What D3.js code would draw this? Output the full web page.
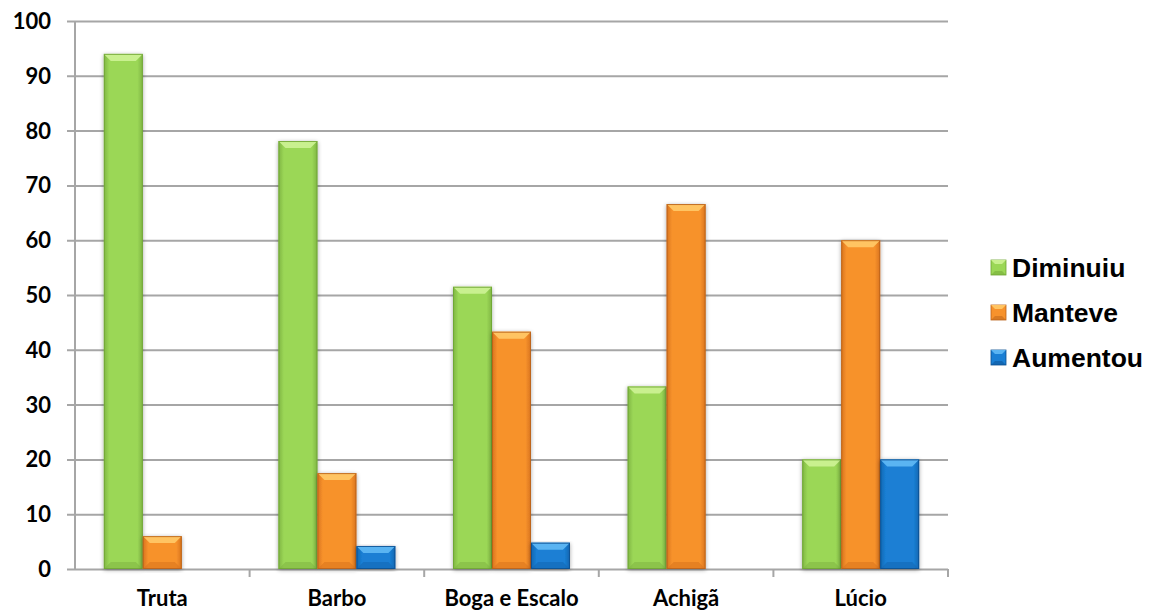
<!DOCTYPE html>
<html>
<head>
<meta charset="utf-8">
<script src="https://cdn.jsdelivr.net/npm/d3@7"></script>
<style>
  html, body { margin: 0; padding: 0; background: #fff; }
  svg { display: block; }
</style>
</head>
<body>
<svg id="chart" width="1153" height="613"></svg>
<script>
// Percentage of answers per species
const categories = ["Truta", "Barbo", "Boga e Escalo", "Achigã", "Lúcio"];
const seriesNames = ["Diminuiu", "Manteve", "Aumentou"];
const diminuiu = [94, 78.1, 51.5, 33.3, 20];
const manteve = [6, 17.5, 43.3, 66.6, 60];
const aumentou = [0, 4.2, 4.8, 0, 20];
const yTicks = [0, 10, 20, 30, 40, 50, 60, 70, 80, 90, 100];

const seriesValues = [diminuiu, manteve, aumentou];
const palette = {
  Diminuiu: { base: "#9bd756", light: "#c9f08f", dark: "#6fa534", edge: "#7fb544" },
  Manteve:  { base: "#f7922c", light: "#ffc462", dark: "#b9611a", edge: "#d8731e" },
  Aumentou: { base: "#1a7fd4", light: "#5ab4f2", dark: "#0c4f8f", edge: "#1166b0" }
};

const svg = d3.select("#chart");
const plotLeft = 75, plotRight = 948, plotTop = 21, plotBottom = 569;

const x0 = d3.scaleBand().domain(categories).range([plotLeft, plotRight]).paddingInner(0).paddingOuter(0);
const x1 = d3.scaleBand().domain(seriesNames).range([0, x0.bandwidth()]).paddingInner(0).paddingOuter(0.74);
const y = d3.scaleLinear().domain([0, 100]).range([plotBottom, plotTop]);

const defs = svg.append("defs");
// horizontal shading for the bar body
seriesNames.forEach((s, i) => {
  const c = palette[s];
  const g = defs.append("linearGradient").attr("id", "body" + i)
    .attr("x1", "0").attr("x2", "1").attr("y1", "0").attr("y2", "0");
  g.append("stop").attr("offset", "0").attr("stop-color", c.edge);
  g.append("stop").attr("offset", "0.14").attr("stop-color", c.base);
  g.append("stop").attr("offset", "0.86").attr("stop-color", c.base);
  g.append("stop").attr("offset", "1").attr("stop-color", c.edge);
});
const shadow = defs.append("filter").attr("id", "shadow")
  .attr("x", "-20%").attr("y", "-10%").attr("width", "140%").attr("height", "120%");
shadow.append("feGaussianBlur").attr("in", "SourceAlpha").attr("stdDeviation", 2);
shadow.append("feOffset").attr("dx", 0).attr("dy", 1).attr("result", "b");
shadow.append("feComponentTransfer").append("feFuncA").attr("type", "linear").attr("slope", 0.35);
const merge = shadow.append("feMerge");
merge.append("feMergeNode");
merge.append("feMergeNode").attr("in", "SourceGraphic");

// gridlines with tick stubs
const yAxis = d3.axisLeft(y).tickValues(yTicks).tickSize(0).tickFormat("");
svg.append("g").attr("transform", `translate(${plotLeft - 8},0)`)
  .call(yAxis)
  .call(g => g.select(".domain").remove())
  .call(g => g.selectAll(".tick line")
    .attr("x1", 0).attr("x2", plotRight - plotLeft + 8)
    .attr("stroke", "#a6a6a6").attr("stroke-width", 2));

// tick labels
svg.append("g").selectAll("text").data(yTicks).join("text")
  .attr("x", 51).attr("y", d => y(d)).attr("dy", "0.36em")
  .attr("text-anchor", "end")
  .attr("font-family", "Lato, 'Open Sans', sans-serif").attr("font-weight", 700)
  .attr("font-size", 22).attr("fill", "#000")
  .text(d => d);

// y axis line
svg.append("line").attr("x1", plotLeft).attr("x2", plotLeft).attr("y1", plotTop).attr("y2", plotBottom + 1)
  .attr("stroke", "#a6a6a6").attr("stroke-width", 2);

// category separators
const sepX = categories.map(c => x0(c) + x0.bandwidth());
svg.append("g").selectAll("line").data(sepX).join("line")
  .attr("x1", d => d).attr("x2", d => d).attr("y1", plotBottom).attr("y2", plotBottom + 8)
  .attr("stroke", "#a6a6a6").attr("stroke-width", 2);

// bars with bevelled edges
const barData = [];
categories.forEach((c, ci) => {
  seriesNames.forEach((s, si) => {
    barData.push({ cat: c, series: s, si, value: seriesValues[si][ci] });
  });
});

const bars = svg.append("g").selectAll("g.bar").data(barData.filter(d => d.value > 0)).join("g")
  .attr("class", "bar").attr("filter", "url(#shadow)");

bars.each(function(d) {
  const g = d3.select(this);
  const c = palette[d.series];
  const bx = x0(d.cat) + x1(d.series);
  const bw = x1.bandwidth();
  const by = y(d.value);
  const bh = y(0) - y(d.value);
  const bev = Math.min(7, bh / 2, bw / 2);
  g.append("rect").attr("x", bx).attr("y", by).attr("width", bw).attr("height", bh)
    .attr("fill", `url(#body${d.si})`);
  // top bevel
  g.append("path")
    .attr("d", `M${bx},${by} L${bx + bw},${by} L${bx + bw - bev},${by + bev} L${bx + bev},${by + bev} Z`)
    .attr("fill", c.light);
  // bottom bevel
  g.append("path")
    .attr("d", `M${bx},${by + bh} L${bx + bw},${by + bh} L${bx + bw - bev},${by + bh - bev} L${bx + bev},${by + bh - bev} Z`)
    .attr("fill", c.edge).attr("opacity", 0.55);
  g.append("rect").attr("x", bx + 0.5).attr("y", by + 0.5).attr("width", bw - 1).attr("height", bh - 1)
    .attr("fill", "none").attr("stroke", c.dark).attr("stroke-width", 1).attr("opacity", 0.85);
});

// category labels
svg.append("g").selectAll("text").data(categories).join("text")
  .attr("x", d => x0(d) + x0.bandwidth() / 2).attr("y", 606)
  .attr("text-anchor", "middle")
  .attr("font-family", "Lato, 'Open Sans', sans-serif").attr("font-weight", 700)
  .attr("font-size", 22).attr("fill", "#000")
  .text(d => d);

// legend
const legend = svg.append("g").selectAll("g").data(seriesNames).join("g")
  .attr("transform", (d, i) => `translate(991,${260 + i * 45})`);
legend.each(function(s, i) {
  const g = d3.select(this);
  const c = palette[s];
  const m = 15;
  g.append("rect").attr("width", m).attr("height", m).attr("fill", c.base)
    .attr("stroke", c.dark).attr("stroke-width", 0.8);
  g.append("path").attr("d", `M0,0 L${m},0 L${m - 4},4 L4,4 Z`).attr("fill", c.light);
  g.append("path").attr("d", `M0,${m} L${m},${m} L${m - 4},${m - 4} L4,${m - 4} Z`).attr("fill", c.dark).attr("opacity", 0.5);
  g.append("text").attr("x", 21).attr("y", m / 2).attr("dy", "0.36em")
    .attr("font-family", "'Liberation Sans', Arial, sans-serif").attr("font-weight", 700)
    .attr("font-size", 26.5).attr("fill", "#000")
    .text(s);
});
</script>
</body>
</html>
